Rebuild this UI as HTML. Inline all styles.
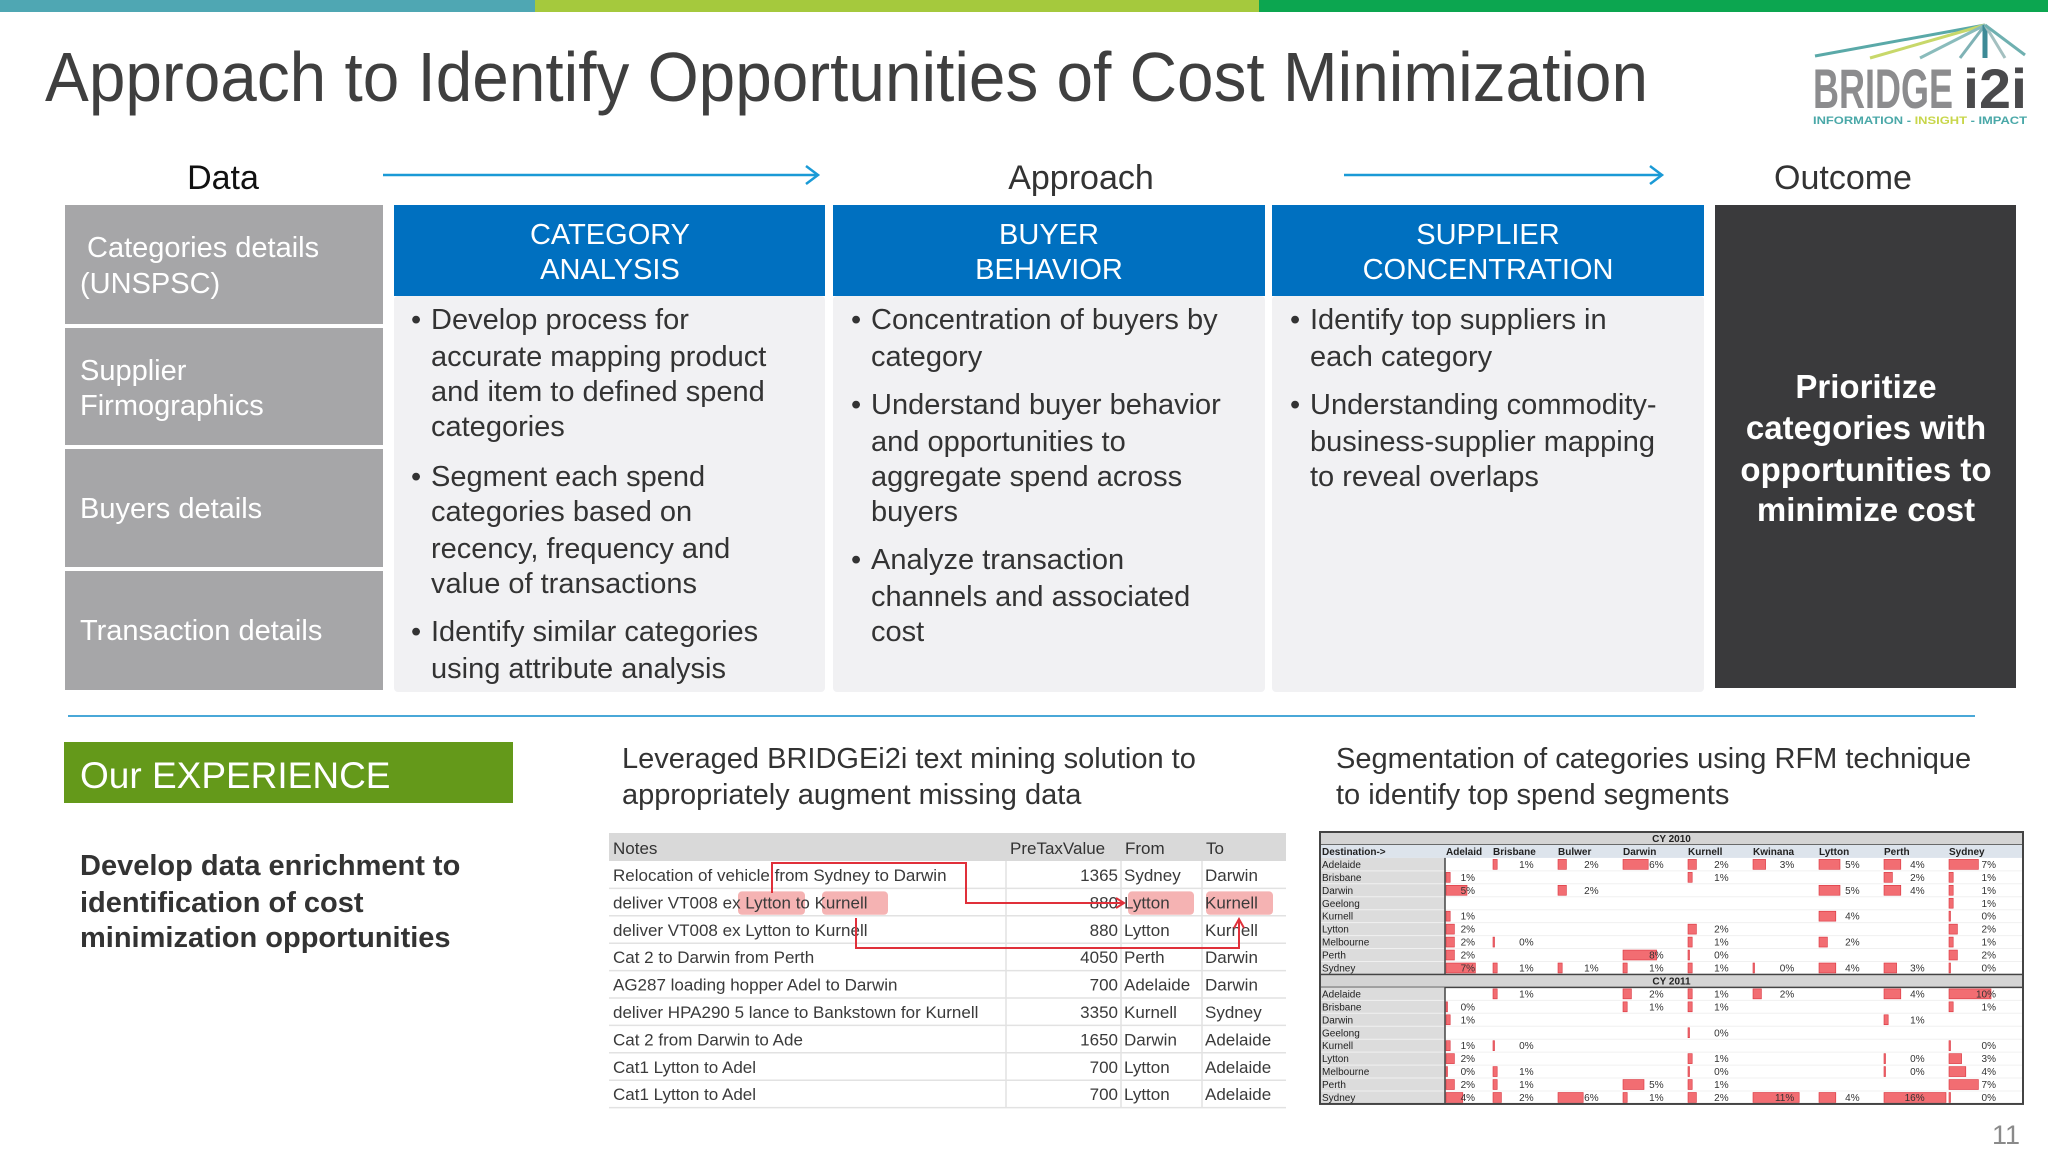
<!DOCTYPE html>
<html><head><meta charset="utf-8"><style>
html,body{margin:0;padding:0;background:#fff}
svg{display:block}
text{font-family:"Liberation Sans",sans-serif}
</style></head><body>
<svg id="s" width="2048" height="1152" viewBox="0 0 2048 1152" xmlns="http://www.w3.org/2000/svg">
<rect x="0" y="0" width="535" height="12" fill="#4fa7b3"/>
<rect x="535" y="0" width="724" height="12" fill="#a5c93d"/>
<rect x="1259" y="0" width="789" height="12" fill="#0ca650"/>
<text x="45" y="101" font-size="70" fill="#3f3f3f" textLength="1603" lengthAdjust="spacingAndGlyphs">Approach to Identify Opportunities of Cost Minimization</text>
<g>
<g stroke-width="3" fill="none">
<line x1="1985" y1="25" x2="1815" y2="56" stroke="#5aa9a8"/>
<line x1="1985" y1="25" x2="1870" y2="58" stroke="#c8d86a"/>
<line x1="1985" y1="25" x2="1920" y2="58" stroke="#8abcbc"/>
<line x1="1985" y1="25" x2="1960" y2="58" stroke="#7fb2b5"/>
<line x1="1985" y1="25" x2="1985" y2="58" stroke="#3d8a96" stroke-width="5"/>
<line x1="1985" y1="25" x2="2005" y2="58" stroke="#a4c0c0"/>
<line x1="1985" y1="25" x2="2025" y2="55" stroke="#6fb0b0"/>
</g>
<text x="1813" y="108" font-size="56" font-weight="bold" fill="#8c8c8e" textLength="140" lengthAdjust="spacingAndGlyphs">BRIDGE</text>
<text x="1963" y="108" font-size="56" font-weight="bold" fill="#4a4a4c" textLength="64" lengthAdjust="spacingAndGlyphs">i2i</text>
<text x="1813" y="124" font-size="11" font-weight="bold" fill="#4aa8a8" textLength="214" lengthAdjust="spacingAndGlyphs">INFORMATION - <tspan fill="#c8d64a">INSIGHT</tspan> - IMPACT</text>
</g>
<text x="223" y="189" font-size="34" fill="#111" text-anchor="middle">Data</text>
<text x="1081" y="189" font-size="34" fill="#333" text-anchor="middle">Approach</text>
<text x="1843" y="189" font-size="34" fill="#333" text-anchor="middle">Outcome</text>
<g stroke="#1a9ad6" stroke-width="2.5" fill="none">
<line x1="383" y1="175" x2="818" y2="175"/><polyline points="806,166 818,175 806,184"/>
<line x1="1344" y1="175" x2="1662" y2="175"/><polyline points="1650,166 1662,175 1650,184"/>
</g>
<g font-size="29" fill="#fff">
<rect x="65" y="205" width="318" height="119" fill="#a6a6a8"/>
<rect x="65" y="328" width="318" height="117" fill="#a6a6a8"/>
<rect x="65" y="449" width="318" height="118" fill="#a6a6a8"/>
<rect x="65" y="571" width="318" height="119" fill="#a6a6a8"/>
<text x="87" y="257">Categories details</text><text x="80" y="293">(UNSPSC)</text>
<text x="80" y="380">Supplier</text><text x="80" y="415">Firmographics</text>
<text x="80" y="518">Buyers details</text>
<text x="80" y="640">Transaction details</text>
</g>
<g>
<rect x="394" y="296" width="431" height="396" fill="#f1f1f3" rx="4"/>
<rect x="833" y="296" width="432" height="396" fill="#f1f1f3" rx="4"/>
<rect x="1272" y="296" width="432" height="396" fill="#f1f1f3" rx="4"/>
<rect x="394" y="205" width="431" height="91" fill="#0070c0"/>
<rect x="833" y="205" width="432" height="91" fill="#0070c0"/>
<rect x="1272" y="205" width="432" height="91" fill="#0070c0"/>
<g font-size="29" fill="#fff" text-anchor="middle">
<text x="610" y="244">CATEGORY</text><text x="610" y="279">ANALYSIS</text>
<text x="1049" y="244">BUYER</text><text x="1049" y="279">BEHAVIOR</text>
<text x="1488" y="244">SUPPLIER</text><text x="1488" y="279">CONCENTRATION</text>
</g>
<g font-size="29" fill="#333">
<text x="411" y="329">•</text><text x="431" y="329">Develop process for</text>
<text x="431" y="366">accurate mapping product</text><text x="431" y="401">and item to defined spend</text><text x="431" y="436">categories</text>
<text x="411" y="486">•</text><text x="431" y="486">Segment each spend</text>
<text x="431" y="521">categories based on</text><text x="431" y="558">recency, frequency and</text><text x="431" y="593">value of transactions</text>
<text x="411" y="641">•</text><text x="431" y="641">Identify similar categories</text><text x="431" y="678">using attribute analysis</text>
<text x="851" y="329">•</text><text x="871" y="329">Concentration of buyers by</text><text x="871" y="366">category</text>
<text x="851" y="414">•</text><text x="871" y="414">Understand buyer behavior</text><text x="871" y="451">and opportunities to</text><text x="871" y="486">aggregate spend across</text><text x="871" y="521">buyers</text>
<text x="851" y="569">•</text><text x="871" y="569">Analyze transaction</text><text x="871" y="606">channels and associated</text><text x="871" y="641">cost</text>
<text x="1290" y="329">•</text><text x="1310" y="329">Identify top suppliers in</text><text x="1310" y="366">each category</text>
<text x="1290" y="414">•</text><text x="1310" y="414">Understanding commodity-</text><text x="1310" y="451">business-supplier mapping</text><text x="1310" y="486">to reveal overlaps</text>
</g>
</g>
<rect x="1715" y="205" width="301" height="483" fill="#3a3a3c"/>
<g font-size="33" font-weight="bold" fill="#fff" text-anchor="middle">
<text x="1866" y="398">Prioritize</text><text x="1866" y="439">categories with</text><text x="1866" y="481">opportunities to</text><text x="1866" y="521">minimize cost</text>
</g>
<line x1="68" y1="716" x2="1975" y2="716" stroke="#4aa8d8" stroke-width="2"/>
<rect x="64" y="742" width="449" height="61" fill="#64991a"/>
<text x="80" y="788" font-size="37" fill="#fff">Our EXPERIENCE</text>
<g font-size="29" font-weight="bold" fill="#333">
<text x="80" y="875">Develop data enrichment to</text><text x="80" y="912">identification of cost</text><text x="80" y="947">minimization opportunities</text>
</g>
<g font-size="29" fill="#333">
<text x="622" y="768">Leveraged BRIDGEi2i text mining solution to</text><text x="622" y="804">appropriately augment missing data</text>
<text x="1336" y="768">Segmentation of categories using RFM technique</text><text x="1336" y="804">to identify top spend segments</text>
</g>
<g id="notesTable"></g>
<g id="rfmTable"></g>
<text x="2020" y="1144" font-size="27" fill="#8a8a8a" text-anchor="end">11</text>
</svg>
<script>
const notesRows = [
 ["Relocation of vehicle from Sydney to Darwin","1365","Sydney","Darwin"],
 ["deliver VT008 ex Lytton to Kurnell","880","Lytton","Kurnell"],
 ["deliver VT008 ex Lytton to Kurnell","880","Lytton","Kurnell"],
 ["Cat 2 to Darwin from Perth","4050","Perth","Darwin"],
 ["AG287 loading hopper Adel to Darwin","700","Adelaide","Darwin"],
 ["deliver HPA290 5 lance to Bankstown for Kurnell","3350","Kurnell","Sydney"],
 ["Cat 2 from Darwin to Ade","1650","Darwin","Adelaide"],
 ["Cat1 Lytton to Adel","700","Lytton","Adelaide"],
 ["Cat1 Lytton to Adel","700","Lytton","Adelaide"]
];
const notesHeaders = ["Notes","PreTaxValue","From","To"];
const destinations = ["Adelaid","Brisbane","Bulwer","Darwin","Kurnell","Kwinana","Lytton","Perth","Sydney"];
const origins = ["Adelaide","Brisbane","Darwin","Geelong","Kurnell","Lytton","Melbourne","Perth","Sydney"];
const values2010 = [
 [null,1,2,6,2,3,5,4,7],
 [1,null,null,null,1,null,null,2,1],
 [5,null,2,null,null,null,5,4,1],
 [null,null,null,null,null,null,null,null,1],
 [1,null,null,null,null,null,4,null,0],
 [2,null,null,null,2,null,null,null,2],
 [2,0,null,null,1,null,2,null,1],
 [2,null,null,8,0,null,null,null,2],
 [7,1,1,1,1,0,4,3,0]
];
const values2011 = [
 [null,1,null,2,1,2,null,4,10],
 [0,null,null,1,1,null,null,null,1],
 [1,null,null,null,null,null,null,1,null],
 [null,null,null,null,0,null,null,null,null],
 [1,0,null,null,null,null,null,null,0],
 [2,null,null,null,1,null,null,0,3],
 [0,1,null,null,0,null,null,0,4],
 [2,1,null,5,1,null,null,null,7],
 [4,2,6,1,2,11,4,16,0]
];
const NS="http://www.w3.org/2000/svg";
function mk(parent,tag,attrs,txt){const e=document.createElementNS(NS,tag);for(const k in attrs)e.setAttribute(k,attrs[k]);if(txt!==undefined)e.textContent=txt;parent.appendChild(e);return e;}
// notes table
(function(){
 const g=document.getElementById('notesTable');
 const x0=609,x1=1286,hy=833,hh=28,rh=27.4;
 const colX=[609,1006,1121,1202];
 mk(g,'rect',{x:x0,y:hy,width:x1-x0,height:hh,fill:'#d9d9d9'});
 const hl=[[738,805],[822,888],[1128,1194],[1206,1273]];
 hl.forEach(h=>{const r=mk(g,'rect',{x:h[0],y:hy+hh+rh+3,width:h[1]-h[0],height:rh-4,rx:4,fill:'#f29a9a','fill-opacity':0.75});
  
  });
 notesHeaders.forEach((h,i)=>{
  const t=mk(g,'text',{x:colX[i]+4,y:hy+21,'font-size':17,fill:'#333'},h);
  
  
 });
 notesRows.forEach((r,i)=>{
  const y=hy+hh+rh*i;
  mk(g,'line',{x1:x0,x2:x1,y1:y+rh,y2:y+rh,stroke:'#e2e2e2','stroke-width':1.5});
  const tb=y+20;
  const a=mk(g,'text',{x:colX[0]+4,y:tb,'font-size':17,fill:'#3a3a3a'},r[0]);
  
  
  mk(g,'text',{x:colX[2]-3,y:tb,'font-size':17,fill:'#3a3a3a','text-anchor':'end'},r[1]);
  mk(g,'text',{x:colX[2]+3,y:tb,'font-size':17,fill:'#3a3a3a'},r[2]);
  mk(g,'text',{x:colX[3]+3,y:tb,'font-size':17,fill:'#3a3a3a'},r[3]);
 });
 [1006,1121,1202].forEach(x=>mk(g,'line',{x1:x,x2:x,y1:hy+hh,y2:hy+hh+rh*9,stroke:'#e2e2e2','stroke-width':1.5}));
 const p='stroke:#e0303a;stroke-width:2;fill:none';
 mk(g,'polyline',{points:'772,893 772,863 966,863 966,903 1122,903',style:p});
 mk(g,'polyline',{points:'1116,898 1124,903 1116,908',style:p});
 mk(g,'polyline',{points:'856,918 856,948 1239,948 1239,920',style:p});
 mk(g,'polyline',{points:'1234,928 1239,919 1244,928',style:p});
})();
// RFM table
(function(){
 const g=document.getElementById('rfmTable');
 const x0=1320,x1=2023,y0=832,rh=12.95;
 const cols=[1445,1492,1557,1622,1687,1752,1818,1883,1948,2023];
 const pxPerPct=4.2;
 let y=y0;
 function titleRow(label){
  mk(g,'rect',{x:x0,y:y,width:x1-x0,height:rh,fill:'#d4d4d4',stroke:'#444','stroke-width':1.5});
  mk(g,'text',{x:(x0+x1)/2,y:y+10,'font-size':10,'font-weight':'bold',fill:'#222','text-anchor':'middle'},label);
  y+=rh;
 }
 function block(vals){
  const top=y;
  mk(g,'rect',{x:x0,y:top,width:cols[0]-x0,height:rh*9,fill:'#dcdcdc'});
  vals.forEach((row,i)=>{
   const ry=y;
   mk(g,'line',{x1:x0,x2:x1,y1:ry+rh,y2:ry+rh,stroke:'#f0f0f0','stroke-width':1});
   mk(g,'text',{x:x0+2,y:ry+10,'font-size':10,fill:'#222'},origins[i]);
   row.forEach((v,j)=>{
    if(v===null)return;
    const cl=cols[j],cw=cols[j+1]-cols[j];
    const w=Math.min(cw-3,Math.max(1.5,v*pxPerPct));
    const b=mk(g,'rect',{x:cl+1,y:ry+1.5,width:w,height:rh-3,fill:'#f26d72',stroke:'#d9323c','stroke-width':0.6});
    
    
    mk(g,'text',{x:cl+cw*0.64,y:ry+10,'font-size':10,fill:'#333','text-anchor':'end'},v+'%');
   });
   y+=rh;
  });
  mk(g,'line',{x1:cols[0],x2:cols[0],y1:top,y2:y,stroke:'#444','stroke-width':1.5});
 }
 titleRow('CY 2010');
 mk(g,'rect',{x:x0,y:y,width:x1-x0,height:rh,fill:'#dde4ec'});
 mk(g,'text',{x:x0+2,y:y+10,'font-size':10,'font-weight':'bold',fill:'#222'},'Destination->');
 destinations.forEach((d,j)=>mk(g,'text',{x:cols[j]+1,y:y+10,'font-size':10,'font-weight':'bold',fill:'#222'},d));
 y+=rh;
 block(values2010);
 titleRow('CY 2011');
 block(values2011);
 mk(g,'rect',{x:x0,y:y0,width:x1-x0,height:y-y0,fill:'none',stroke:'#444','stroke-width':2});
})();
</script>
</body></html>
